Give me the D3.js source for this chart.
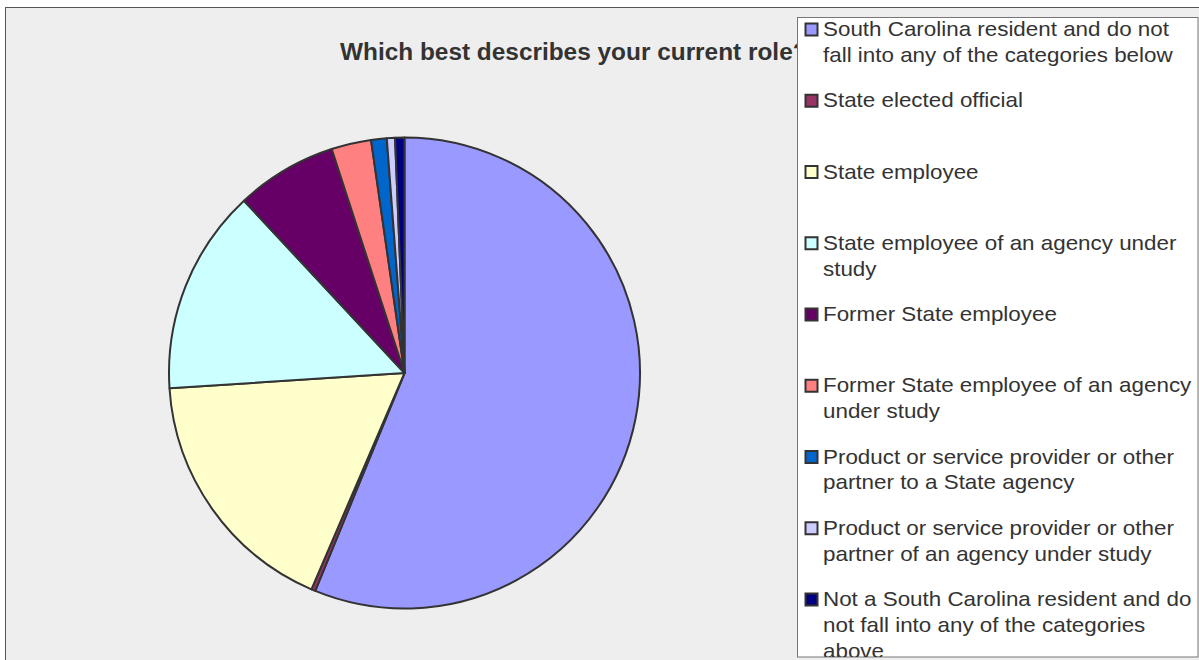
<!DOCTYPE html>
<html>
<head>
<meta charset="utf-8">
<script src="https://cdn.jsdelivr.net/npm/d3@7"></script>
<style>
  body { margin: 0; background: #fff; }
  text { font-family: "Liberation Sans", Arial, sans-serif; }
</style>
</head>
<body>
<script>
// Chart data
var categories = [
  "South Carolina resident and do not\nfall into any of the categories below",
  "State elected official",
  "State employee",
  "State employee of an agency under\nstudy",
  "Former State employee",
  "Former State employee of an agency\nunder study",
  "Product or service provider or other\npartner to a State agency",
  "Product or service provider or other\npartner of an agency under study",
  "Not a South Carolina resident and do\nnot fall into any of the categories\nabove"
];
var values = [56.2, 0.28, 17.5, 14.1, 6.94, 2.73, 1.07, 0.56, 0.64];
var colors = ["#9999ff", "#993366", "#ffffcc", "#ccffff", "#660066",
              "#ff8080", "#0066cc", "#ccccff", "#000080"];
var title = "Which best describes your current role?";

var width = 1199, height = 660;

var svg = d3.select("body").append("svg")
    .attr("width", width)
    .attr("height", height);

// chart frame
svg.append("rect")
    .attr("x", 5.5).attr("y", 7.5)
    .attr("width", width + 10).attr("height", height + 10)
    .attr("fill", "#eeeeee")
    .attr("stroke", "#555")
    .attr("stroke-width", 1);

// title (partly hidden behind the legend, as in the original)
svg.append("text")
    .attr("x", 340)
    .attr("y", 60)
    .attr("font-size", 24.4)
    .attr("font-weight", "bold")
    .attr("fill", "#333")
    .text(title);

// pie
var cx = 404.5, cy = 373, r = 235.5;

var pie = d3.pie().sort(null).value(function(d) { return d; });
var arc = d3.arc().innerRadius(0).outerRadius(r);

var g = svg.append("g")
    .attr("transform", "translate(" + cx + "," + cy + ")");

g.selectAll("path.slice")
    .data(pie(values))
  .enter().append("path")
    .attr("class", "slice")
    .attr("d", arc)
    .attr("fill", function(d, i) { return colors[i]; })
    .attr("stroke", "#333")
    .attr("stroke-width", 2)
    .attr("stroke-linejoin", "round");

// legend
var lx = 797.5, ly = 17.5;
svg.append("rect")
    .attr("x", lx).attr("y", ly)
    .attr("width", 1198 - lx).attr("height", 657 - ly)
    .attr("fill", "#fff")
    .attr("stroke", "#777")
    .attr("stroke-width", 1);

svg.append("clipPath").attr("id", "lclip")
  .append("rect")
    .attr("x", lx).attr("y", ly)
    .attr("width", 1198 - lx).attr("height", 657 - ly);

var itemY = d3.scaleLinear().domain([0, 8]).range([36, 606]);

var legend = svg.append("g").attr("clip-path", "url(#lclip)");

var item = legend.selectAll("g.item")
    .data(categories)
  .enter().append("g")
    .attr("class", "item")
    .attr("transform", function(d, i) { return "translate(0," + itemY(i) + ")"; });

item.append("rect")
    .attr("x", 805.5)
    .attr("y", -12.5)
    .attr("width", 12)
    .attr("height", 12)
    .attr("fill", function(d, i) { return colors[i]; })
    .attr("stroke", "#333")
    .attr("stroke-width", 2);

// the original legend font is a little wider than Arial
item.append("text")
    .attr("transform", "translate(823,0) scale(1.12,1)")
    .attr("font-size", 20)
    .attr("fill", "#333")
    .selectAll("tspan")
    .data(function(d) { return d.split("\n"); })
  .enter().append("tspan")
    .attr("x", 0)
    .attr("dy", function(d, i) { return i === 0 ? 0 : 26; })
    .text(function(d) { return d; });
</script>
</body>
</html>
